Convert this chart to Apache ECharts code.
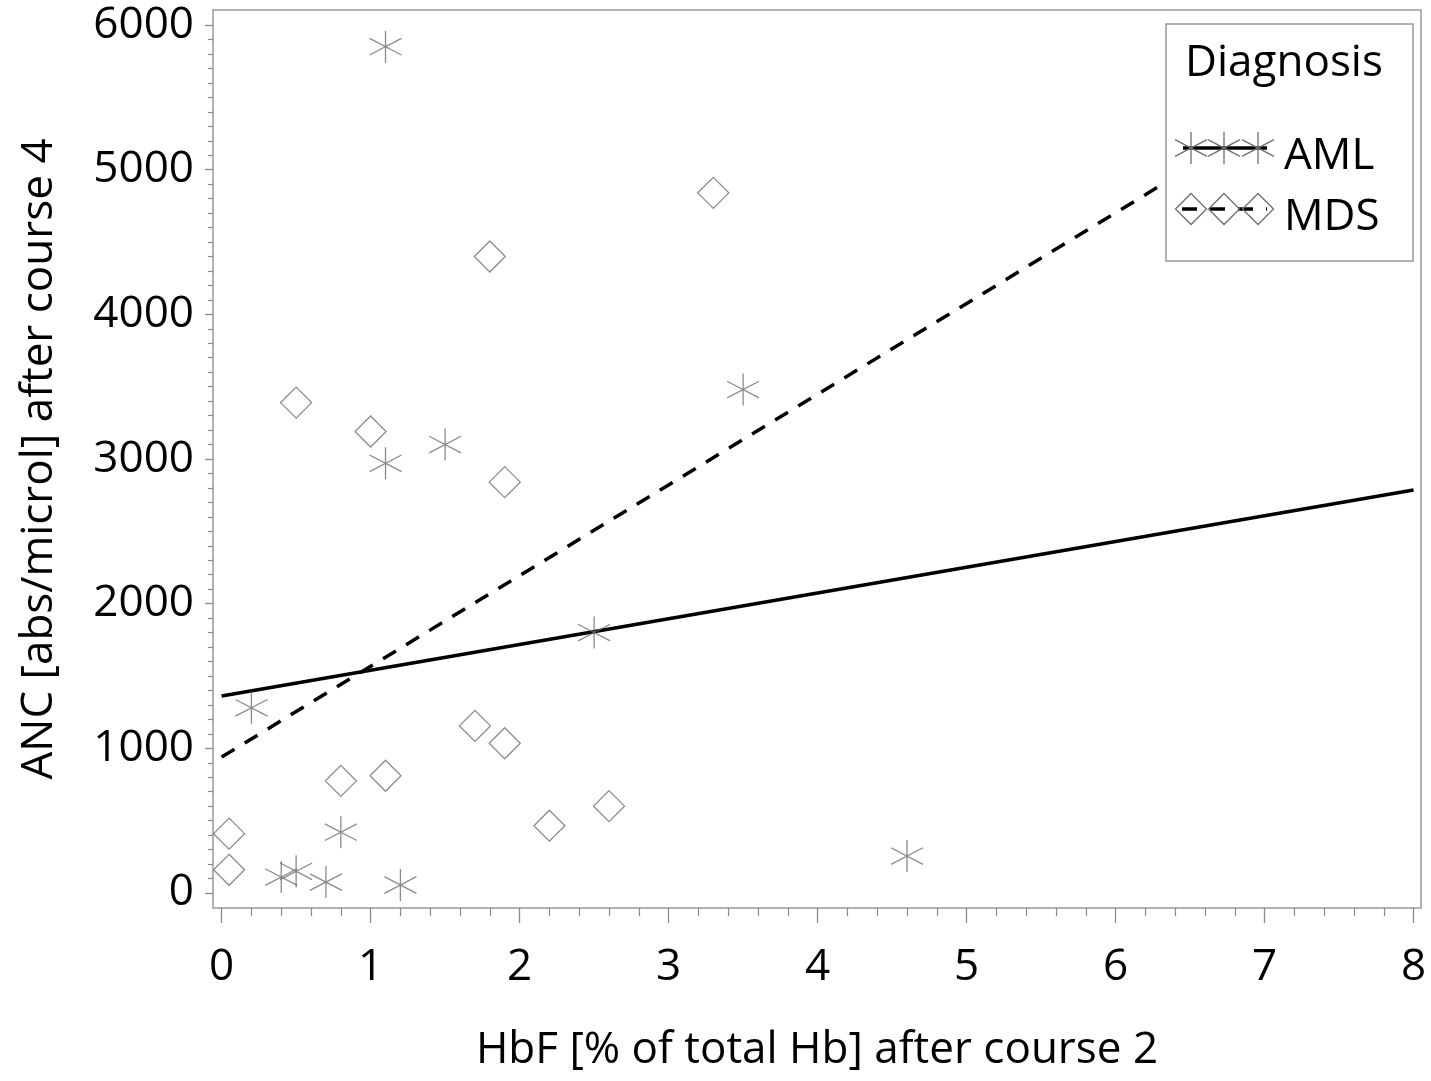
<!DOCTYPE html>
<html lang="en">
  <head>
    <meta charset="UTF-8" />
    <title>HbF vs ANC</title>
    <style>
      body {
        margin: 0;
        background: #fff;
      }
      #chart {
        width: 1431px;
        height: 1081px;
      }
    </style>
    <script src="https://cdn.jsdelivr.net/npm/echarts@6/dist/echarts.min.js"></script>
  </head>
  <body>
    <div id="chart"></div>
    <script>
      // AML patients: HbF after course 2 / ANC after course 4
      const amlHbF = [1.1, 3.5, 1.5, 1.1, 2.5, 0.2, 0.8, 4.6, 0.4, 0.5, 0.7, 1.2];
      const amlANC = [5850, 3480, 3100, 2970, 1800, 1280, 420, 255, 110, 150, 75, 55];
      // MDS patients
      const mdsHbF = [3.3, 1.8, 0.5, 1.0, 1.9, 1.7, 1.9, 0.8, 1.1, 2.2, 2.6, 0.05, 0.05];
      const mdsANC = [4840, 4400, 3390, 3190, 2840, 1155, 1035, 775, 810, 465, 600, 410, 160];
      // fitted regression lines
      const fitHbF = [0, 8];
      const amlFitANC = [1362, 2786];
      const mdsFitANC = [940, 5956];
      // axis ticks
      const xTicks = [0, 1, 2, 3, 4, 5, 6, 7, 8];
      const yTicks = [0, 1000, 2000, 3000, 4000, 5000, 6000];

      const FONT = "'Open Sans', 'Noto Sans', sans-serif";
      const FS = 44;
      const GRAY = "#8a8a8a";
      const MARK = "#6e6e6e";
      const ASTERISK = "path://M16,0L16,32M0,7.7L32,24.3M0,24.3L32,7.7";

      // minor ticks between the labelled ones
      function minorTicks(ticks, parts) {
        const out = [];
        for (let i = 0; i < ticks.length - 1; i++) {
          const step = (ticks[i + 1] - ticks[i]) / parts;
          for (let k = 1; k < parts; k++) out.push(ticks[i] + k * step);
        }
        return out;
      }

      const xRange = { min: -0.058, max: 8.05 };
      const yRange = { min: -104, max: 6104 };

      const pairs = (xs, ys) => xs.map((x, i) => [x, ys[i]]);

      // legend drawing (sample glyphs), drawn over the plot
      const LZ = 100;
      function asteriskLines(cx, cy) {
        const s = { stroke: MARK, lineWidth: 1.3 };
        return [
          { type: "line", z: LZ, shape: { x1: cx, y1: cy - 16, x2: cx, y2: cy + 16 }, style: s },
          { type: "line", z: LZ, shape: { x1: cx - 16, y1: cy - 8.3, x2: cx + 16, y2: cy + 8.3 }, style: s },
          { type: "line", z: LZ, shape: { x1: cx - 16, y1: cy + 8.3, x2: cx + 16, y2: cy - 8.3 }, style: s },
        ];
      }
      function diamond(cx, cy) {
        return {
          type: "polygon",
          z: LZ,
          shape: { points: [[cx, cy - 15.5], [cx + 15.5, cy], [cx, cy + 15.5], [cx - 15.5, cy]] },
          style: { fill: "none", stroke: MARK, lineWidth: 1.3 },
        };
      }
      const legendItems = [
        {
          type: "rect",
          z: LZ - 1,
          shape: { x: 1166, y: 24, width: 247, height: 237 },
          style: { fill: "#fff", stroke: "#999", lineWidth: 1.5 },
        },
        {
          type: "text",
          z: LZ,
          x: 1284, y: 63,
          style: { text: "Diagnosis", font: FS + "px " + FONT, fill: "#000", align: "center", verticalAlign: "middle" },
        },
        {
          type: "line",
          z: LZ,
          shape: { x1: 1183, y1: 148, x2: 1267, y2: 148 },
          style: { stroke: "#000", lineWidth: 3.5 },
        },
        ...asteriskLines(1191, 148),
        ...asteriskLines(1224, 148),
        ...asteriskLines(1258, 148),
        {
          type: "text",
          z: LZ,
          x: 1284, y: 156,
          style: { text: "AML", font: FS + "px " + FONT, fill: "#000", align: "left", verticalAlign: "middle" },
        },
        {
          type: "line",
          z: LZ,
          shape: { x1: 1182, y1: 209, x2: 1267, y2: 209 },
          style: { stroke: "#000", lineWidth: 3.5, lineDash: [15, 13] },
        },
        diamond(1191, 209),
        diamond(1224, 209),
        diamond(1258, 209),
        {
          type: "text",
          z: LZ,
          x: 1284, y: 217,
          style: { text: "MDS", font: FS + "px " + FONT, fill: "#000", align: "left", verticalAlign: "middle" },
        },
      ];

      const plain = (v) => String(v);

      const chart = echarts.init(document.getElementById("chart"));
      chart.setOption({
        animation: false,
        backgroundColor: "#fff",
        textStyle: { fontFamily: FONT },
        grid: {
          left: 213,
          top: 10,
          right: 10,
          bottom: 173,
          show: true,
          borderColor: "#999",
          borderWidth: 1.5,
        },
        xAxis: [
          {
            type: "value",
            ...xRange,
            name: "HbF [% of total Hb] after course 2",
            nameLocation: "middle",
            nameGap: 120,
            nameTextStyle: { fontSize: FS, color: "#000", fontFamily: FONT },
            axisLine: { show: false, onZero: false },
            axisTick: { show: true, length: 15, customValues: xTicks, lineStyle: { color: GRAY, width: 1.3 } },
            axisLabel: { customValues: xTicks, formatter: plain, margin: 37, fontSize: FS, color: "#000", fontFamily: FONT },
            splitLine: { show: false },
          },
          {
            type: "value",
            ...xRange,
            position: "bottom",
            axisLine: { show: false, onZero: false },
            axisTick: { show: true, length: 8, customValues: minorTicks(xTicks, 5), lineStyle: { color: GRAY, width: 1.2 } },
            axisLabel: { show: false },
            splitLine: { show: false },
          },
        ],
        yAxis: [
          {
            type: "value",
            ...yRange,
            name: "ANC [abs/microl] after course 4",
            nameLocation: "middle",
            nameGap: 152,
            nameTextStyle: { fontSize: FS, color: "#000", fontFamily: FONT },
            axisLine: { show: false, onZero: false },
            axisTick: { show: true, length: 8, customValues: yTicks, lineStyle: { color: GRAY, width: 1.3 } },
            axisLabel: { customValues: yTicks, formatter: plain, margin: 19, fontSize: FS, color: "#000", fontFamily: FONT },
            splitLine: { show: false },
          },
          {
            type: "value",
            ...yRange,
            position: "left",
            axisLine: { show: false, onZero: false },
            axisTick: { show: true, length: 5, customValues: minorTicks(yTicks, 10), lineStyle: { color: GRAY, width: 1.2 } },
            axisLabel: { show: false },
            splitLine: { show: false },
          },
        ],
        series: [
          {
            name: "AML",
            type: "scatter",
            data: pairs(amlHbF, amlANC),
            symbol: ASTERISK,
            symbolSize: [32, 32],
            itemStyle: { color: "transparent", borderColor: MARK, borderWidth: 1.3 },
            emphasis: { disabled: true },
            z: 3,
          },
          {
            name: "MDS",
            type: "scatter",
            data: pairs(mdsHbF, mdsANC),
            symbol: "diamond",
            symbolSize: 31,
            itemStyle: { color: "transparent", borderColor: MARK, borderWidth: 1.3 },
            emphasis: { disabled: true },
            z: 3,
          },
          {
            name: "AML fit",
            type: "line",
            data: pairs(fitHbF, amlFitANC),
            symbol: "none",
            lineStyle: { color: "#000", width: 3.5 },
            emphasis: { disabled: true },
            z: 2,
          },
          {
            name: "MDS fit",
            type: "line",
            data: pairs(fitHbF, mdsFitANC),
            symbol: "none",
            lineStyle: { color: "#000", width: 3.5, type: [15, 12] },
            emphasis: { disabled: true },
            z: 2,
          },
        ],
        graphic: legendItems,
      });
    </script>
  </body>
</html>
